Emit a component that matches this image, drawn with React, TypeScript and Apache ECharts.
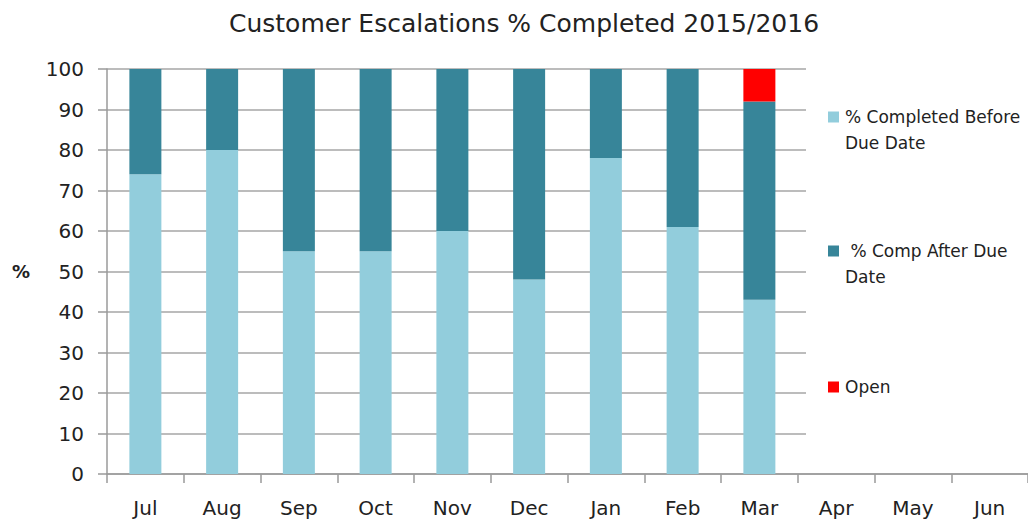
import React, { useEffect, useRef } from "react";
import * as echarts from "echarts";

const months = ["Jul", "Aug", "Sep", "Oct", "Nov", "Dec", "Jan", "Feb", "Mar", "Apr", "May", "Jun"];
const completedBefore: (number | null)[] = [74, 80, 55, 55, 60, 48, 78, 61, 43, null, null, null];
const completedAfter: (number | null)[] = [26, 20, 45, 45, 40, 52, 22, 39, 49, null, null, null];
const openItems: (number | null)[] = [null, null, null, null, null, null, null, null, 8, null, null, null];
const yTicks = { min: 0, max: 100, interval: 10 };

const seriesNames = ["% Completed Before Due Date", "% Comp After Due Date", "Open"];
const legendLines = [["% Completed Before", "Due Date"], [" % Comp After Due", "Date"], ["Open"]];
const colors = ["#92CDDC", "#378599", "#FF0000"];

export default function App() {
  const ref = useRef<HTMLDivElement>(null);
  useEffect(() => {
    document.body.style.margin = "0";
    document.body.style.overflow = "hidden";
    const chart = echarts.init(ref.current!, null, { renderer: "svg" });
    const font = "DejaVu Sans";
    const legendTops = [117, 251, 387];
    const legendGraphics: any[] = [];
    legendLines.forEach((lines, i) => {
      legendGraphics.push({
        type: "rect",
        z: 20,
        shape: { x: 828, y: legendTops[i] - 5.5, width: 11, height: 11 },
        style: { fill: colors[i] },
      });
      lines.forEach((ln, j) => {
        legendGraphics.push({
          type: "text",
          z: 20,
          x: 845,
          y: legendTops[i] + j * 26,
          style: {
            text: ln,
            fill: "#222",
            font: `17px "${font}"`,
            textVerticalAlign: "middle",
            textAlign: "left",
          },
        });
      });
    });
    chart.setOption({
      animation: false,
      backgroundColor: "#fff",
      title: {
        text: "Customer Escalations % Completed 2015/2016",
        left: 519,
        textAlign: "center",
        top: 6,
        textStyle: { fontFamily: font, fontSize: 25, fontWeight: "normal", color: "#222" },
      },
      grid: { left: 107, top: 69, width: 929, height: 405, containLabel: false },
      xAxis: {
        type: "category",
        data: months,
        boundaryGap: true,
        axisLine: { lineStyle: { color: "#9a9a9a", width: 1.5 } },
        axisTick: { show: true, length: 9, lineStyle: { color: "#9a9a9a", width: 1.5 } },
        axisLabel: { color: "#222", fontFamily: font, fontSize: 20, margin: 24 },
      },
      yAxis: {
        type: "value",
        min: yTicks.min,
        max: yTicks.max,
        interval: yTicks.interval,
        name: "%",
        nameLocation: "middle",
        nameRotate: 0,
        nameGap: 77,
        nameTextStyle: { color: "#222", fontFamily: font, fontSize: 18, fontWeight: "bold" },
        axisLine: { show: true, lineStyle: { color: "#9a9a9a", width: 1.5 } },
        axisTick: { show: true, length: 9, lineStyle: { color: "#9a9a9a", width: 1.5 } },
        axisLabel: { color: "#222", fontFamily: font, fontSize: 20, margin: 23 },
        splitLine: { show: true, lineStyle: { color: "#a6a6a6", width: 1.5 } },
      },
      series: [completedBefore, completedAfter, openItems].map((d, i) => ({
        name: seriesNames[i],
        type: "bar",
        stack: "total",
        data: d,
        barWidth: 32,
        itemStyle: { color: colors[i] },
      })),
      graphic: [
        { type: "rect", z: 10, shape: { x: 806, y: 55, width: 240, height: 412 }, style: { fill: "#fff" } },
        ...legendGraphics,
      ],
    });
    return () => chart.dispose();
  }, []);
  return <div ref={ref} style={{ width: 1028, height: 523 }} />;
}
